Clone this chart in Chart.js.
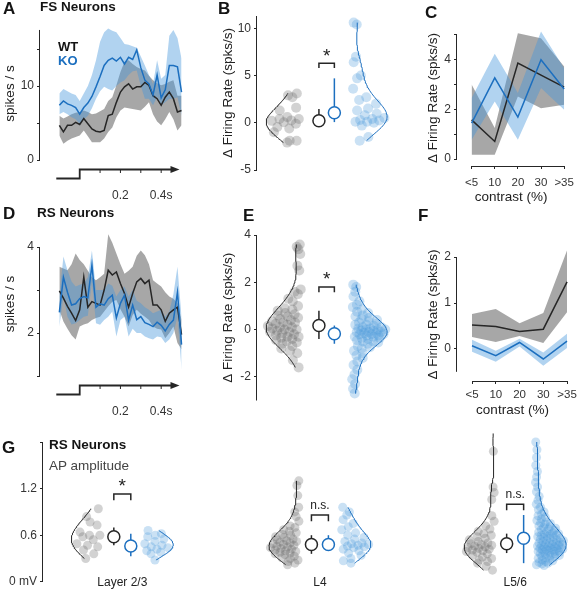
<!doctype html>
<html>
<head>
<meta charset="utf-8">
<script src="https://cdn.jsdelivr.net/npm/chart.js@4.4.1/dist/chart.umd.min.js"></script>
<style>
  body { margin:0; background:#fff; font-family:"Liberation Sans", Arial, sans-serif; }
  #fig { position:relative; width:581px; height:592px; overflow:hidden; }
  #fig canvas, #fig .t { position:absolute; }
  .t { line-height:1; white-space:nowrap; color:#141414; }
  .L { font-size:17px; font-weight:bold; }
  .h { font-size:13.5px; font-weight:bold; }
</style>
<script>
// ---- time courses (A, D) ----
const times = [-0.1,-0.08,-0.06,-0.04,-0.02,0,0.02,0.04,0.06,0.08,0.1,0.12,0.14,0.16,0.18,0.2,0.22,0.24,0.26,0.28,0.3,0.32,0.34,0.36,0.38,0.4,0.42,0.44,0.46,0.48,0.5];
const fsKO   = [7.4,8.0,7.6,7.4,7.1,6.2,7.1,7.7,8.6,9.9,11.3,12.8,13.5,13.8,13.4,13.9,13.0,13.9,13.6,14.9,12.5,10.8,10.3,8.8,11.5,8.4,9.5,12.8,12.8,12.6,9.2];
const fsKOhi = [9.0,9.6,9.3,9.0,8.8,8.0,9.0,10.0,11.5,13.5,16.0,17.3,17.8,17.5,17.3,16.5,15.7,15.6,15.4,15.2,14.0,12.8,11.5,10.3,13.5,11.0,11.5,16.8,17.6,16.5,13.7];
const fsKOlo = [6.2,6.5,6.2,5.8,5.5,4.9,5.5,6.0,7.0,8.3,9.3,9.9,9.6,9.4,10.0,10.5,10.8,11.5,12.0,12.1,10.0,8.3,8.3,7.4,8.6,7.4,7.8,8.3,8.3,8.5,6.0];
const fsWT   = [4.7,3.8,4.7,4.7,5.1,4.8,5.6,4.9,4.2,3.9,3.8,4.0,6.0,6.2,7.8,9.2,9.9,10.3,9.6,9.9,9.9,10.5,10.1,8.7,8.3,7.4,8.5,9.2,8.3,6.5,6.7];
const fsWThi = [6.0,5.6,5.9,6.2,6.4,6.5,6.7,6.5,6.2,6.3,6.6,6.9,8.0,8.5,10.1,11.9,13.3,13.5,13.0,12.6,12.3,12.1,11.4,10.8,10.4,10.1,10.3,10.6,10.8,8.7,8.7];
const fsWTlo = [3.3,2.2,2.6,2.9,3.1,3.3,4.0,3.2,2.4,2.4,2.4,2.9,3.8,4.4,5.8,6.7,7.1,7.0,6.9,6.8,6.7,7.2,7.8,6.2,5.2,4.7,5.5,6.5,5.5,4.0,4.7];

const rsWT   = [2.98,2.81,2.62,2.46,2.29,2.54,3.3,2.6,2.73,2.69,2.65,3.0,3.46,3.35,3.42,3.15,2.92,2.6,2.92,3.19,3.27,3.15,3.23,2.65,2.65,2.54,2.27,2.46,2.54,2.6,1.96];
const rsWThi = [3.54,3.5,3.46,3.6,3.85,3.7,3.6,3.45,3.3,3.23,3.3,3.38,4.3,4.1,3.85,3.6,3.38,3.45,3.54,3.8,3.92,3.81,3.6,3.23,3.15,3.08,2.95,2.85,2.8,2.69,2.31];
const rsWTlo = [2.54,2.27,2.1,1.95,1.85,2.15,2.2,2.23,2.3,2.35,2.38,2.5,2.62,2.73,2.77,2.55,2.38,2.15,2.42,2.54,2.45,2.38,2.3,2.15,2.1,2.08,1.88,2.0,2.15,1.77,1.62];
const rsKO   = [2.48,3.3,2.95,2.65,2.68,2.8,2.85,2.82,3.58,2.6,2.68,2.65,2.8,2.88,2.35,2.69,2.88,2.3,2.65,2.31,2.38,2.24,2.2,2.15,2.25,2.18,2.05,2.2,2.3,2.95,1.73];
const rsKOhi = [2.85,3.78,3.46,3.2,3.08,3.12,3.15,3.3,3.92,3.0,3.0,3.0,3.15,3.1,2.85,3.0,3.08,2.85,3.0,2.75,2.69,2.6,2.54,2.46,2.5,2.54,2.38,2.5,2.9,3.54,2.38];
const rsKOlo = [2.15,2.85,2.38,2.2,2.23,2.3,2.38,2.4,3.2,2.23,2.19,2.3,2.38,2.5,1.92,2.3,2.38,1.92,2.1,2.0,2.0,1.92,1.88,1.85,1.92,1.9,1.77,1.85,2.0,2.38,1.15];

// ---- contrast tuning (C, F) ----
const contrastLabels = ['<5','10','20','30','>35'];
const cWT   = [1.58,0.71,3.87,3.38,2.9];
const cWTlo = [0.17,0.17,2.52,2.05,2.19];
const cWThi = [3.0,1.25,5.07,4.87,3.73];
const cKO   = [1.45,3.27,1.69,4.0,2.82];
const cKOlo = [0.78,2.32,0.78,2.86,1.99];
const cKOhi = [2.46,4.24,2.66,5.14,3.66];
const fWT   = [0.52,0.49,0.38,0.43,1.46];
const fWTlo = [0.26,0.15,0.28,0.13,0.8];
const fWThi = [0.76,0.87,0.56,0.78,2.15];
const fKO   = [0.07,-0.15,0.14,-0.22,0.17];
const fKOlo = [-0.06,-0.28,0.05,-0.37,0.02];
const fKOhi = [0.2,-0.04,0.22,-0.08,0.33];

// ---- per-cell values (B, E, G) ----
const bWT = [3.1,2.9,2.7,1.6,1.3,0.6,0.4,0.4,0.25,0.2,0.05,-0.1,-0.45,-0.6,-1.0,-1.9,-1.9,-2.1];
const bKO = [10.6,10.4,7.0,6.4,5.0,4.7,3.6,2.7,2.4,2.0,1.5,1.3,0.95,0.8,0.5,0.4,0.3,0.25,0.1,0.1,0.0,-0.3,-1.5,-1.9];
const bStatWT = [0.22,-0.45,1.45];   // mean, low, high
const bStatKO = [1.06,0.07,4.7];

const eWT = [3.6,3.5,3.4,3.2,2.7,2.5,1.7,1.6,1.5,1.3,1.2,1.0,0.9,0.85,0.8,0.7,0.65,0.6,0.55,0.5,0.45,0.4,0.35,0.3,0.3,0.25,0.2,0.15,0.1,0.1,0.05,0.0,0.0,-0.05,-0.1,-0.1,-0.15,-0.2,-0.25,-0.3,-0.3,-0.35,-0.4,-0.45,-0.5,-0.55,-0.6,-0.7,-0.8,-0.9,-1.0,-1.3,-1.6];
const eKO = [1.9,1.8,1.6,1.4,1.2,1.05,0.95,0.85,0.75,0.7,0.6,0.55,0.5,0.45,0.4,0.35,0.3,0.25,0.2,0.2,0.15,0.1,0.1,0.05,0.05,0.0,0.0,0.0,-0.05,-0.05,-0.1,-0.1,-0.1,-0.15,-0.15,-0.2,-0.2,-0.2,-0.25,-0.25,-0.3,-0.3,-0.35,-0.35,-0.4,-0.45,-0.5,-0.5,-0.55,-0.6,-0.7,-0.75,-0.8,-0.9,-1.0,-1.1,-1.2,-1.35,-1.5,-1.7,-1.9,-2.1,-2.3,-2.5,-2.7];
const eStatWT = [0.17,-0.4,0.8];
const eStatKO = [-0.18,-0.6,0.17];

const layerNames = ['Layer 2/3','L4','L5/6'];
const apWT = [
  [0.94,0.84,0.77,0.73,0.64,0.6,0.6,0.58,0.54,0.49,0.47,0.45,0.41,0.36,0.3],
  [1.3,1.24,1.11,0.96,0.9,0.84,0.78,0.72,0.7,0.67,0.65,0.63,0.61,0.6,0.58,0.57,0.55,0.54,0.53,0.52,0.51,0.5,0.49,0.48,0.47,0.46,0.45,0.44,0.43,0.42,0.41,0.4,0.39,0.38,0.37,0.36,0.35,0.33,0.31,0.3,0.28,0.26,0.24,0.22],
  [1.91,1.68,1.22,1.15,1.06,0.85,0.78,0.72,0.68,0.65,0.62,0.6,0.58,0.56,0.54,0.52,0.5,0.49,0.48,0.47,0.46,0.45,0.44,0.43,0.42,0.41,0.4,0.39,0.38,0.36,0.34,0.32,0.3,0.28,0.26,0.24,0.2,0.15]
];
const apKO = [
  [0.66,0.62,0.6,0.58,0.55,0.52,0.49,0.47,0.45,0.44,0.42,0.4,0.38,0.36,0.28],
  [0.96,0.9,0.86,0.8,0.75,0.71,0.67,0.63,0.6,0.57,0.55,0.52,0.5,0.49,0.48,0.47,0.46,0.45,0.44,0.42,0.4,0.37,0.34,0.3,0.27,0.24],
  [1.8,1.7,1.6,1.5,1.42,1.35,1.28,1.22,1.16,1.1,1.05,1.0,0.96,0.93,0.9,0.87,0.85,0.83,0.81,0.79,0.77,0.76,0.75,0.74,0.72,0.71,0.7,0.69,0.68,0.67,0.66,0.65,0.64,0.63,0.62,0.62,0.61,0.6,0.6,0.59,0.58,0.58,0.57,0.56,0.56,0.55,0.54,0.54,0.53,0.52,0.52,0.51,0.5,0.5,0.49,0.49,0.48,0.48,0.47,0.47,0.46,0.46,0.45,0.45,0.44,0.44,0.43,0.43,0.42,0.42,0.41,0.41,0.4,0.4,0.39,0.39,0.38,0.38,0.37,0.36,0.36,0.35,0.34,0.34,0.33,0.32,0.31,0.3,0.29,0.28,0.27,0.26,0.25,0.24,0.23,0.22,0.21]
];
const apStatWT = [[0.58,0.47,0.7],[0.48,0.36,0.6],[0.49,0.37,0.62]];
const apStatKO = [[0.46,0.33,0.62],[0.48,0.44,0.6],[0.56,0.24,0.86]];
const apSig = ['*','n.s.','n.s.'];

// ---- look ----
const ink = '#262626';
const koBlue = '#1c6fbf';
const koBand = 'rgba(70,150,220,0.42)';
const wtBand = 'rgba(80,80,80,0.5)';
const wtDot = 'rgba(105,105,105,0.3)';
const koDot = 'rgba(80,155,220,0.3)';
const fam = '"Liberation Sans", Arial, sans-serif';

function toXY(xs, ys) { return ys.map((y, i) => ({x: xs[i], y: y})); }

function bandSets(xs, lo, hi, color) {
  return [
    {data: toXY(xs, hi), fill: '+1', backgroundColor: color, borderWidth: 0, pointRadius: 0, tension: 0, clip: false},
    {data: toXY(xs, lo), fill: false, borderWidth: 0, pointRadius: 0, tension: 0, clip: false}
  ];
}
function lineSet(xs, ys, color) {
  return {data: toXY(xs, ys), borderColor: color, borderWidth: 1.5, pointRadius: 0, fill: false, tension: 0, clip: false};
}

function yAxis(min, max, ticks, labels, width, title, titlePad) {
  return {
    min: min, max: max,
    border: {display: false},
    grid: {drawOnChartArea: false, drawTicks: true, tickLength: 3, color: ink, lineWidth: 1},
    afterBuildTicks: s => { s.ticks = ticks.map(v => ({value: v})); },
    ticks: {padding: 3, color: '#333', font: {size: 12},
            callback: v => { const i = ticks.indexOf(v); return i >= 0 ? labels[i] : ''; }},
    title: title ? {display: true, text: title, color: '#222', font: {size: 13.5}, padding: {top: titlePad, bottom: 0}} : {display: false},
    afterFit: s => { s.width = width; }
  };
}
function contrastAxis(pad, height) {
  return {
    type: 'linear', min: -0.632, max: 4.04,
    border: {display: false},
    grid: {drawOnChartArea: false, tickLength: 3, color: ink},
    afterBuildTicks: s => { s.ticks = contrastLabels.map((_, i) => ({value: i})); },
    ticks: {padding: pad, autoSkip: false, maxRotation: 0, color: '#333', font: {size: 11.5},
            callback: v => contrastLabels[v] ?? ''},
    title: {display: true, text: 'contrast (%)', color: '#222', font: {size: 13.5}, padding: {top: 0, bottom: 4}},
    afterFit: s => { s.height = height; }
  };
}

// axis lines that only cover part of the plot box
function spines(yr, xr) {
  return {id: 'spines', afterDraw(chart) {
    const {ctx, chartArea: a, scales: {x, y}} = chart;
    ctx.save(); ctx.strokeStyle = ink; ctx.lineWidth = 1;
    if (yr) { ctx.beginPath(); ctx.moveTo(a.left - 0.5, y.getPixelForValue(yr[0])); ctx.lineTo(a.left - 0.5, y.getPixelForValue(yr[1])); ctx.stroke(); }
    if (xr) { ctx.beginPath(); ctx.moveTo(x.getPixelForValue(xr[0]), a.bottom + 0.5); ctx.lineTo(x.getPixelForValue(xr[1]), a.bottom + 0.5); ctx.stroke(); }
    ctx.restore();
  }};
}
// stimulus step under the PSTH
const stimStart = -0.115, stimEnd = 0.49, stimTicks = [0.1, 0.2, 0.3, 0.4];
function stim() {
  return {id: 'stim', afterDraw(chart) {
    const {ctx, chartArea: a, scales: {x}} = chart;
    const hi = a.bottom + 9.5, lo = a.bottom + 18.5;
    const x0 = x.getPixelForValue(0), xe = x.getPixelForValue(stimEnd);
    ctx.save(); ctx.strokeStyle = ink; ctx.fillStyle = ink; ctx.lineWidth = 1.8;
    ctx.beginPath();
    ctx.moveTo(x.getPixelForValue(stimStart), lo); ctx.lineTo(x0, lo); ctx.lineTo(x0, hi); ctx.lineTo(xe - 6, hi);
    ctx.stroke();
    ctx.lineWidth = 1;
    stimTicks.forEach(t => { const p = x.getPixelForValue(t); ctx.beginPath(); ctx.moveTo(p, hi); ctx.lineTo(p, hi + 3.5); ctx.stroke(); });
    ctx.beginPath(); ctx.moveTo(xe, hi); ctx.lineTo(xe - 9, hi - 3.5); ctx.lineTo(xe - 9, hi + 3.5); ctx.closePath(); ctx.fill();
    ctx.restore();
  }};
}
// text placed in data coordinates
function notes(items) {
  return {id: 'notes', afterDraw(chart) {
    const {ctx, scales: {x, y}} = chart;
    ctx.save(); ctx.textAlign = 'center'; ctx.textBaseline = 'middle';
    items.forEach(n => {
      ctx.font = (n.size || 12) + 'px ' + fam; ctx.fillStyle = n.color || '#222';
      ctx.fillText(n.text, x.getPixelForValue(n.x), y.getPixelForValue(n.y));
    });
    ctx.restore();
  }};
}

// ---- violins ----
function median(a) { const s = [...a].sort((p, q) => p - q); const m = s.length >> 1; return s.length % 2 ? s[m] : (s[m - 1] + s[m]) / 2; }
function kde(vals) {
  const med = median(vals);
  const sig = median(vals.map(v => Math.abs(v - med))) / 0.6745;
  const h = 1.5 * sig * Math.pow(4 / (3 * vals.length), 0.2);
  return y => vals.reduce((s, v) => s + Math.exp(-0.5 * ((y - v) / h) ** 2), 0);
}
function violin(vals, base, side, width, line, dot, r) {
  const dens = kde(vals);
  const lo = Math.min(...vals), hi = Math.max(...vals);
  const ys = [];
  for (let i = 0; i <= 80; i++) ys.push(lo + (hi - lo) * i / 80);
  const ds = ys.map(dens), dmax = Math.max(...ds);
  const curve = ys.map((y, i) => ({x: base + side * width * ds[i] / dmax, y: y}));
  const pts = vals.map((v, i) => ({x: base + side * width * (dens(v) / dmax) * (0.06 + 0.9 * ((i * 0.618034 + 0.31) % 1)), y: v}));
  return [
    {type: 'scatter', data: pts, pointRadius: r, pointBackgroundColor: dot, pointBorderWidth: 0, order: 5, clip: false},
    {type: 'scatter', data: curve, showLine: true, borderColor: line, borderWidth: 1, pointRadius: 0, order: 3, clip: false}
  ];
}
function meanMark(x, st, color) {
  return [
    {type: 'scatter', data: [{x: x, y: st[0]}], pointRadius: 6, pointBackgroundColor: '#fff', pointBorderColor: color, pointBorderWidth: 1.5, order: 0, clip: false},
    {type: 'scatter', data: [{x: x, y: st[1]}, {x: x, y: st[2]}], showLine: true, borderColor: color, borderWidth: 1.5, pointRadius: 0, order: 1, clip: false}
  ];
}
function bracket(x1, x2, top, leg) {
  return {type: 'scatter', data: [{x: x1, y: leg}, {x: x1, y: top}, {x: x2, y: top}, {x: x2, y: leg}],
          showLine: true, borderColor: ink, borderWidth: 1.5, pointRadius: 0, order: 1, clip: false};
}
function pairGroup(L, c, wtVals, koVals, wtStat, koStat, r) {
  return [
    ...meanMark(c - L.m, wtStat, ink),
    ...meanMark(c + L.m, koStat, koBlue),
    ...violin(wtVals, c - L.b, -1, L.w, ink, wtDot, r),
    ...violin(koVals, c + L.b, 1, L.w, koBlue, koDot, r)
  ];
}

Chart.defaults.font.family = fam;
Chart.defaults.font.size = 12;
Chart.defaults.color = '#333';
Chart.defaults.animation = false;
Chart.defaults.plugins.legend.display = false;
Chart.defaults.plugins.tooltip.enabled = false;

function psth(id, yMin, yMax, ticks, labels, spineY, wt, wtLo, wtHi, ko, koLo, koHi, padTop, xH) {
  new Chart(document.getElementById(id), {
    type: 'line',
    data: {datasets: [
      lineSet(times, ko, koBlue), lineSet(times, wt, ink),
      ...bandSets(times, koLo, koHi, koBand), ...bandSets(times, wtLo, wtHi, wtBand)
    ]},
    options: {
      responsive: false,
      layout: {padding: {top: padTop, right: 3, bottom: 0, left: 0}},
      scales: {
        x: {type: 'linear', min: -0.195, max: 0.515, border: {display: false}, grid: {display: false},
            afterBuildTicks: s => { s.ticks = [{value: 0.2}, {value: 0.4}]; },
            ticks: {padding: 20, autoSkip: false, maxRotation: 0, color: '#333', font: {size: 12},
                    callback: v => v === 0.4 ? '0.4s' : String(v)},
            afterFit: s => { s.height = xH; }},
        y: yAxis(yMin, yMax, ticks, labels, 40, 'spikes / s', 2)
      }
    },
    plugins: [spines(spineY, null), stim()]
  });
}

function tuning(id, yMin, yMax, ticks, labels, spineY, wt, wtLo, wtHi, ko, koLo, koHi, padTop, xPad, xH) {
  const xs = contrastLabels.map((_, i) => i);
  new Chart(document.getElementById(id), {
    type: 'line',
    data: {datasets: [
      lineSet(xs, ko, koBlue), lineSet(xs, wt, ink),
      ...bandSets(xs, koLo, koHi, koBand), ...bandSets(xs, wtLo, wtHi, wtBand)
    ]},
    options: {
      responsive: false,
      layout: {padding: {top: padTop, right: 13, bottom: 0, left: 0}},
      scales: {x: contrastAxis(xPad, xH), y: yAxis(yMin, yMax, ticks, labels, 36, '\u0394 Firing Rate (spks/s)', 4)}
    },
    plugins: [spines(spineY, [0, 4])]
  });
}

function startPage() {
  psth('cA', 0, 18, [0, 5, 10, 15], ['0', '', '10', ''], [0, 17.6], fsWT, fsWTlo, fsWThi, fsKO, fsKOlo, fsKOhi, 27, 40);
  psth('cD', 1, 4.35, [1, 2, 3, 4], ['', '2', '', '4'], [1, 4], rsWT, rsWTlo, rsWThi, rsKO, rsKOlo, rsKOhi, 27, 39);
  tuning('cC', -0.28, 5.2, [0, 1, 2, 3, 4, 5], ['0', '', '2', '', '4', ''], [0, 5], cWT, cWTlo, cWThi, cKO, cKOlo, cKOhi, 30, 7, 43);
  tuning('cF', -0.7, 2.2, [0, 1, 2], ['0', '1', '2'], [-0.5, 2], fWT, fWTlo, fWThi, fKO, fKOlo, fKOhi, 33, 4, 41);

  // B and E: one WT / KO pair
  const pairL = {m: 0.57, b: 1.86, w: 2.6};
  const pc = 5.14;
  const pairChart = (id, wt, ko, sw, sk, yMin, yMax, ticks, padTop, padBottom, brTop, brLeg, starY) => new Chart(document.getElementById(id), {
    type: 'scatter',
    data: {datasets: [...pairGroup(pairL, pc, wt, ko, sw, sk, 5), bracket(pc - pairL.m, pc + pairL.m, brTop, brLeg)]},
    options: {
      responsive: false,
      layout: {padding: {top: padTop, right: 3, bottom: padBottom, left: 0}},
      scales: {
        x: {type: 'linear', min: 0, max: 10, display: false},
        y: yAxis(yMin, yMax, ticks, ticks.map(String), 41, '\u0394 Firing Rate (spks/s)', 4)
      }
    },
    plugins: [spines([yMin, yMax], null), notes([{x: pc, y: starY, text: '*', size: 19}])]
  });
  pairChart('cB', bWT, bKO, bStatWT, bStatKO, -5, 11.3, [-5, 0, 5, 10], 16, 11, 6.3, 5.8, 7.0);
  pairChart('cE', eWT, eKO, eStatWT, eStatKO, -3, 4, [-2, 0, 2, 4], 30, 11.5, 1.8, 1.58, 2.1);

  // G: AP amplitude per layer
  const gL = {m: 0.16, b: 0.38, w: 0.58};
  const gc = [1.495, 5.22, 8.9];
  const brTop = [1.13, 0.86, 1.0];
  const gNotes = [];
  let gSets = [];
  layerNames.forEach((name, i) => {
    gSets = gSets.concat(pairGroup(gL, gc[i], apWT[i], apKO[i], apStatWT[i], apStatKO[i], 4.5));
    gSets.push(bracket(gc[i] - gL.m, gc[i] + gL.m, brTop[i], brTop[i] - 0.08));
    gNotes.push({x: gc[i], y: -0.01, text: name, size: 12});
    gNotes.push(apSig[i] === '*' ? {x: gc[i], y: brTop[i] + 0.1, text: '*', size: 19}
                                 : {x: gc[i], y: brTop[i] + 0.12, text: apSig[i], size: 12});
  });
  new Chart(document.getElementById('cG'), {
    type: 'scatter',
    data: {datasets: gSets},
    options: {
      responsive: false,
      layout: {padding: {top: 17, right: 3, bottom: 10, left: 0}},
      scales: {
        x: {type: 'linear', min: 0, max: 10, display: false},
        y: yAxis(0, 1.8, [0, 0.6, 1.2, 1.8], ['0 mV', '0.6', '1.2', ''], 43, null, 0)
      }
    },
    plugins: [spines([0, 1.8], null), notes(gNotes)]
  });
}
</script>
</head>
<body onload="startPage()">
<div id="fig">
  <canvas id="cA" width="193" height="200" style="left:0;top:0"></canvas>
  <canvas id="cB" width="184" height="181" style="left:216px;top:0"></canvas>
  <canvas id="cC" width="160" height="209" style="left:421px;top:0"></canvas>
  <canvas id="cD" width="193" height="210" style="left:0;top:205px"></canvas>
  <canvas id="cE" width="184" height="207" style="left:216px;top:205px"></canvas>
  <canvas id="cF" width="160" height="207" style="left:421px;top:215px"></canvas>
  <canvas id="cG" width="581" height="167" style="left:0;top:425px"></canvas>

  <div class="t L" style="left:3px;top:0">A</div>
  <div class="t h" style="left:40px;top:0">FS Neurons</div>
  <div class="t h" style="left:58px;top:40px;font-size:13px">WT</div>
  <div class="t h" style="left:58px;top:54px;font-size:13px;color:#1c6fbf">KO</div>
  <div class="t L" style="left:218px;top:0">B</div>
  <div class="t L" style="left:425px;top:4px">C</div>
  <div class="t L" style="left:3px;top:205px">D</div>
  <div class="t h" style="left:37px;top:206px">RS Neurons</div>
  <div class="t L" style="left:243px;top:207px">E</div>
  <div class="t L" style="left:418px;top:207px">F</div>
  <div class="t L" style="left:2px;top:439px">G</div>
  <div class="t h" style="left:49px;top:438px">RS Neurons</div>
  <div class="t" style="left:49px;top:459px;font-size:13.5px;color:#444">AP amplitude</div>
</div>
</body>
</html>
